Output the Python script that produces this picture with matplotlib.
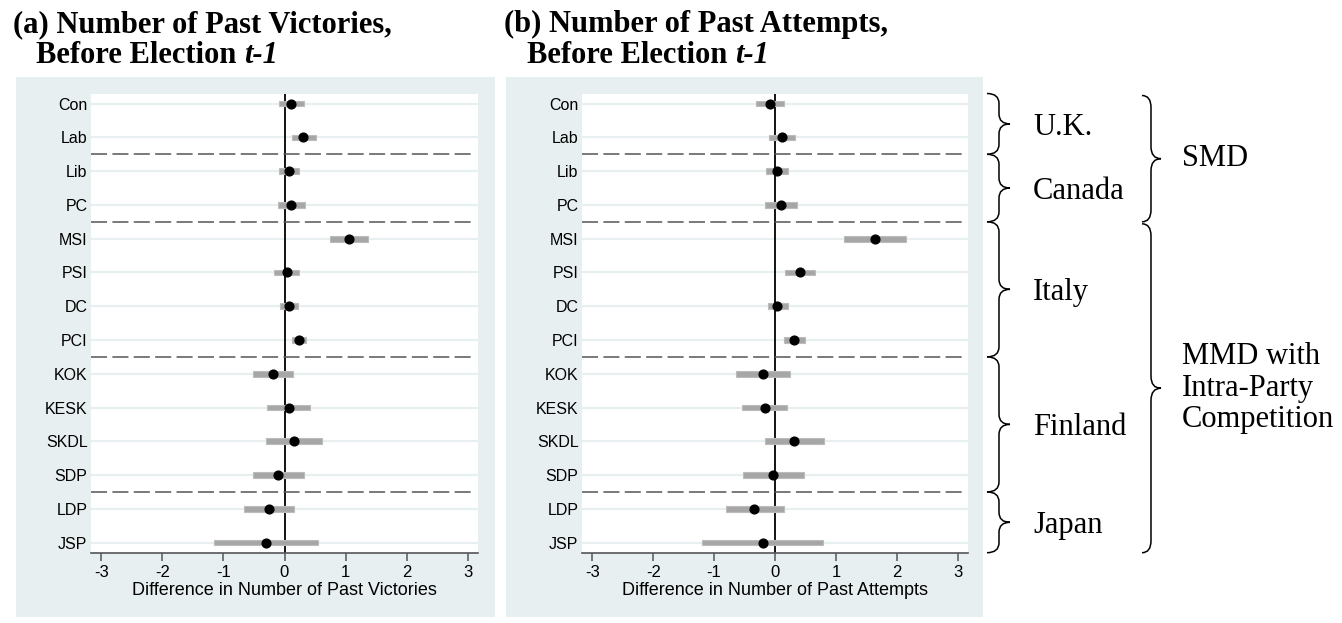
import numpy as np
import matplotlib
matplotlib.use('Agg')
import matplotlib.pyplot as plt
from matplotlib.patches import Rectangle, PathPatch
from matplotlib.path import Path

# Parties, top to bottom
parties = ['Con', 'Lab', 'Lib', 'PC', 'MSI', 'PSI', 'DC', 'PCI',
           'KOK', 'KESK', 'SKDL', 'SDP', 'LDP', 'JSP']

# (a) past victories
vic_est = [0.11, 0.31, 0.07, 0.11, 1.05, 0.04, 0.07, 0.24, -0.19, 0.07, 0.16, -0.10, -0.25, -0.31]
vic_lo = [-0.09, 0.13, -0.09, -0.11, 0.74, -0.17, -0.08, 0.12, -0.51, -0.28, -0.30, -0.52, -0.66, -1.16]
vic_hi = [0.32, 0.51, 0.23, 0.34, 1.37, 0.24, 0.22, 0.36, 0.14, 0.41, 0.62, 0.32, 0.16, 0.55]

# (b) past attempts
att_est = [-0.09, 0.11, 0.03, 0.10, 1.64, 0.41, 0.04, 0.31, -0.20, -0.16, 0.32, -0.03, -0.34, -0.20]
att_lo = [-0.32, -0.10, -0.15, -0.16, 1.14, 0.17, -0.12, 0.14, -0.64, -0.55, -0.17, -0.53, -0.80, -1.20]
att_hi = [0.15, 0.33, 0.22, 0.36, 2.15, 0.65, 0.21, 0.49, 0.24, 0.19, 0.81, 0.47, 0.15, 0.79]

xticks = [-3, -2, -1, 0, 1, 2, 3]
separators = [2.5, 4.5, 8.5, 12.5]
countries = ['U.K.', 'Canada', 'Italy', 'Finland', 'Japan']
country_bounds = [0.7, 2.5, 4.5, 8.5, 12.5, 14.3]
systems = ['SMD', 'MMD with\nIntra-Party\nCompetition']
system_bounds = [0.7, 4.5, 14.3]

W, H = 1342, 623
BG = '#e8eff1'
SERIF = 'Liberation Serif'
SANS = 'Liberation Sans'

fig = plt.figure(figsize=(W / 100, H / 100), dpi=100)


def px(x0, y0, w, h):
    # pixel box (top-left origin) -> figure fraction
    return [x0 / W, 1 - (y0 + h) / H, w / W, h / H]


# panel backgrounds
for x0, x1 in [(16, 495), (506, 983)]:
    l, b, w, h = px(x0, 77, x1 - x0, 540)
    fig.patches.append(Rectangle((l, b), w, h, transform=fig.transFigure,
                                 facecolor=BG, edgecolor='none', zorder=-5))


def coef_panel(ax, est, lo, hi, xlabel):
    y = np.arange(1, len(parties) + 1)
    for yy in y:
        ax.axhline(yy, color=BG, lw=1.6, zorder=1)
    ax.barh(y, np.array(hi) - np.array(lo), left=lo, height=0.17,
            color='#a6a6a6', edgecolor='#bcbcbc', lw=0.8, zorder=3)
    ax.axvline(0, color='black', lw=1.3, zorder=2)
    ax.plot(est, y, 'o', color='black', ms=6.3, zorder=4)
    for s in separators:
        ax.axhline(s, xmin=0, xmax=0.995, color='#555555', lw=1.1,
                   dashes=(10.5, 3.5), zorder=2)
    ax.set_ylim(14.3, 0.7)
    ax.set_xlim(-3.17, 3.17)
    ax.set_yticks(y)
    ax.set_yticklabels(parties, fontsize=11.5, family=SANS)
    ax.tick_params(axis='y', length=0, pad=2.5)
    ax.set_xticks(xticks)
    ax.set_xticklabels([str(t) for t in xticks], fontsize=12, family=SANS)
    ax.tick_params(axis='x', length=5.5, width=1.1, color='#555555', pad=3)
    for side in ['top', 'left', 'right']:
        ax.spines[side].set_visible(False)
    ax.spines['bottom'].set_color('#555555')
    ax.spines['bottom'].set_linewidth(1.2)
    ax.set_xlabel(xlabel, fontsize=13, family=SANS, labelpad=2)


ax1 = fig.add_axes(px(91, 93.5, 387, 459.2))
ax2 = fig.add_axes(px(582, 93.5, 386, 459.2))
ax1.set_zorder(2)
ax2.set_zorder(2)
coef_panel(ax1, vic_est, vic_lo, vic_hi, 'Difference in Number of Past Victories')
coef_panel(ax2, att_est, att_lo, att_hi, 'Difference in Number of Past Attempts')

# titles
renderer = fig.canvas.get_renderer()


def title(x, line1, line2):
    fig.text(x / W, 1 - 32 / H, line1, fontsize=22, weight='bold',
             family=SERIF, va='baseline')
    t = fig.text((x + 23) / W, 1 - 63 / H, line2, fontsize=22, weight='bold',
                 family=SERIF, va='baseline')
    x_end = t.get_window_extent(renderer=renderer).x1 / W
    fig.text(x_end, 1 - 63 / H, 't-1', fontsize=22, weight='bold',
             style='italic', family=SERIF, va='baseline')


title(13, '(a) Number of Past Victories,', 'Before Election ')
title(504, '(b) Number of Past Attempts,', 'Before Election ')


def ypix(v):
    # data y of ax2 -> pixel y from the top
    return H - ax2.transData.transform((0, v))[1]


def brace(xl, xs, xt, ytop, ybot, r):
    ym = (ytop + ybot) / 2
    pts = [(xl, ytop), (xs, ytop), (xs, ytop + r),
           (xs, ym - r), (xs, ym), (xt, ym),
           (xs, ym), (xs, ym + r),
           (xs, ybot - r), (xs, ybot), (xl, ybot)]
    codes = [Path.MOVETO, Path.CURVE3, Path.CURVE3,
             Path.LINETO, Path.CURVE3, Path.CURVE3,
             Path.CURVE3, Path.CURVE3,
             Path.LINETO, Path.CURVE3, Path.CURVE3]
    verts = [(x / W, 1 - y / H) for x, y in pts]
    fig.patches.append(PathPatch(Path(verts, codes), transform=fig.transFigure,
                                 facecolor='none', edgecolor='black', lw=1.1))
    return ym


# country braces
for i, name in enumerate(countries):
    ym = brace(987, 999, 1010, ypix(country_bounds[i]), ypix(country_bounds[i + 1]), 10)
    fig.text(1033 / W, 1 - ym / H, name, fontsize=22, family=SERIF,
             va='center_baseline', ha='left')

# electoral system braces
for i, name in enumerate(systems):
    ym = brace(1142, 1151, 1161, ypix(system_bounds[i]) + 2, ypix(system_bounds[i + 1]), 12)
    fig.text(1182 / W, 1 - ym / H, name, fontsize=22, family=SERIF,
             va='center', ha='left', linespacing=1.12)

fig.savefig('out.png', dpi=100)
